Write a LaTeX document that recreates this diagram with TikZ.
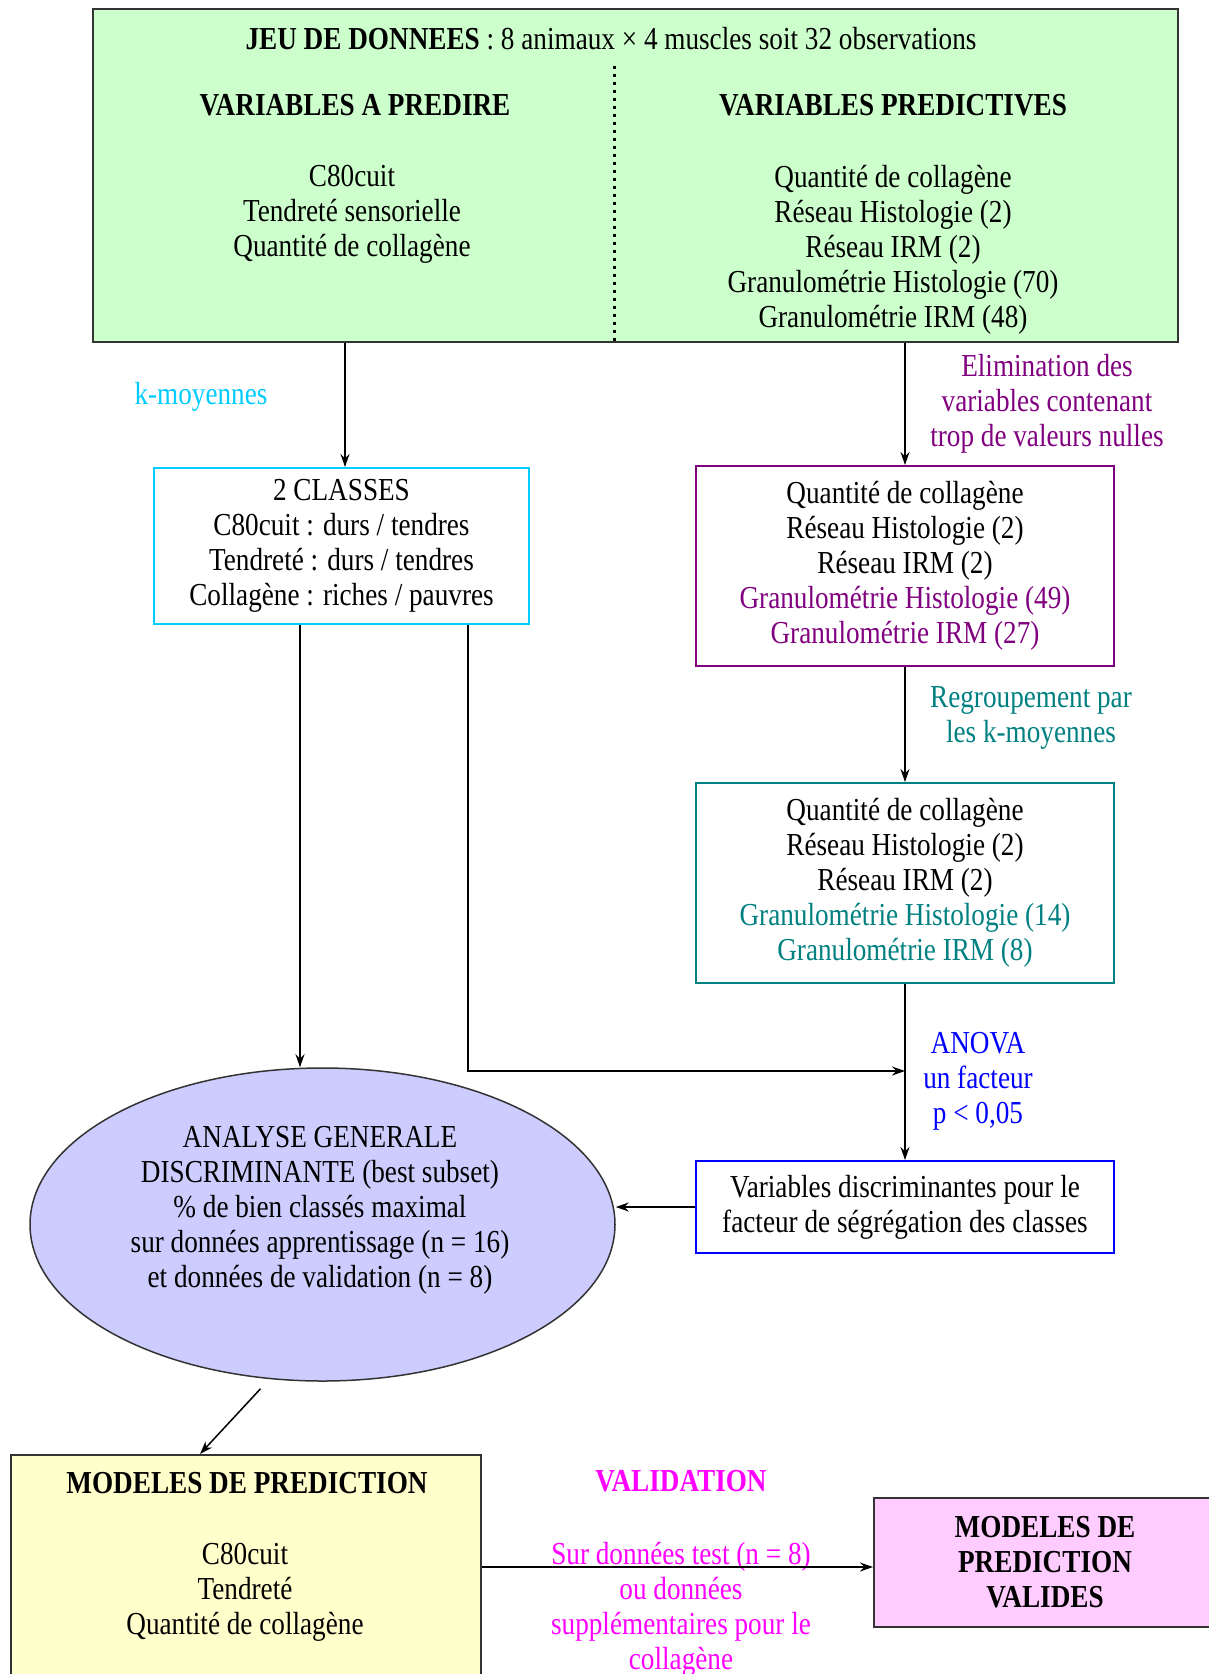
\documentclass[tikz,border=0pt]{standalone}
\usepackage{fontspec}
\setmainfont{Liberation Serif}[FakeStretch=0.85]
\usetikzlibrary{arrows.meta,shapes.geometric}
\definecolor{vert}{HTML}{CCFFCC}
\definecolor{ciel}{HTML}{00CCFF}
\definecolor{violet}{HTML}{800080}
\definecolor{sarcelle}{HTML}{008080}
\definecolor{bleu}{HTML}{0000FF}
\definecolor{lavande}{HTML}{CCCCFF}
\definecolor{jaune}{HTML}{FFFFCC}
\definecolor{rose}{HTML}{FFCCFF}
\definecolor{magenta}{HTML}{FF00FF}
\begin{document}
\begin{tikzpicture}[x=1pt, y=-1pt,
    every node/.style={font=\fontsize{32}{35}\selectfont, align=center},
    titre/.style={font=\fontsize{32}{35}\selectfont\bfseries},
    box/.style={draw, line width=2pt, inner sep=0pt},
    link/.style={-{Stealth[length=13pt,width=9pt]}, line width=1.5pt}]
  \useasboundingbox (0,0) rectangle (1209,1674);
  % Boxes
  \node (data) at (635.5,175.5) [box, draw=black!80, fill=vert, minimum width=1085, minimum height=333] {};
  \node (classes) at (341.5,546) [box, draw=ciel, minimum width=375, minimum height=156] {2 CLASSES\\C80cuit : durs / tendres\\Tendreté : durs / tendres\\Collagène : riches / pauvres};
  \node (elim) at (905,566) [box, draw=violet, minimum width=418, minimum height=200] {Quantité de collagène\\Réseau Histologie (2)\\Réseau IRM (2)\\\textcolor{violet}{Granulométrie Histologie (49)}\\\textcolor{violet}{Granulométrie IRM (27)}};
  \node (regroup) at (905,883) [box, draw=sarcelle, minimum width=418, minimum height=200] {Quantité de collagène\\Réseau Histologie (2)\\Réseau IRM (2)\\\textcolor{sarcelle}{Granulométrie Histologie (14)}\\\textcolor{sarcelle}{Granulométrie IRM (8)}};
  \node (discr) at (905,1207) [box, draw=bleu, minimum width=418, minimum height=92] {Variables discriminantes pour le\\facteur de ségrégation des classes};
  \node (agd) at (322.5,1224.5) [ellipse, draw=black!80, line width=1.5pt, fill=lavande, inner sep=0pt, minimum width=585, minimum height=313] {};
  \node (model) at (246,1567) [box, draw=black!80, fill=jaune, minimum width=470, minimum height=224] {};
  \node (valid) at (1045,1562.5) [box, draw=black!80, fill=rose, minimum width=342, minimum height=129, titre] {MODELES DE\\PREDICTION\\VALIDES};
  % Texts
  \node (title) at (611,39) {\textbf{JEU DE DONNEES} : 8 animaux × 4 muscles soit 32 observations};
  \node (hpredire) at (355,105) [titre] {VARIABLES A PREDIRE};
  \node (hpredictive) at (893,105) [titre] {VARIABLES PREDICTIVES};
  \node (lpredire) at (352,214) {C80cuit\\Tendreté sensorielle\\Quantité de collagène};
  \node (lpredictive) at (893,250) {Quantité de collagène\\Réseau Histologie (2)\\Réseau IRM (2)\\Granulométrie Histologie (70)\\Granulométrie IRM (48)};
  \node (agdtxt) at (320,1210) {ANALYSE GENERALE\\DISCRIMINANTE (best subset)\\\% de bien classés maximal\\sur données apprentissage (n = 16)\\et données de validation (n = 8)};
  \node (modeltitle) at (247,1483) [titre] {MODELES DE PREDICTION};
  \node (modellist) at (245,1592) {C80cuit\\Tendreté\\Quantité de collagène};
  % Labels
  \node (kmoy) at (201,397) [text=ciel] {k-moyennes};
  \node (elimtxt) at (1047,404) [text=violet] {Elimination des\\variables contenant\\trop de valeurs nulles};
  \node (regtxt) at (1031,718) [text=sarcelle] {Regroupement par\\les k-moyennes};
  \node (anovatxt) at (978,1081) [text=bleu] {ANOVA\\un facteur\\p < 0,05};
  \node (validtxt) at (681,1481) [titre, text=magenta] {VALIDATION};
  \node (testtxt) at (681,1609) [text=magenta] {Sur données test (n = 8)\\ou données\\supplémentaires pour le\\collagène};
  % Edges
  \coordinate (split) at (614,66);
  \coordinate (join) at (905,1071);
  \draw[line width=3pt, dash pattern=on 3pt off 5pt] (split) -- (split |- data.south);
  \draw[link] ([xshift=3.5]data.south -| classes.north) -- ([xshift=3.5]classes.north);
  \draw[link] (data.south -| elim.north) -- (elim.north);
  \draw[link] (elim) -- (regroup);
  \draw[link] (regroup) -- (discr);
  \draw[link] ([xshift=-41.5]classes.south) -- ([xshift=-41.5]classes.south |- agd.north);
  \draw[link] ([xshift=126.5]classes.south) |- (join);
  \draw[link] (discr.west) -- (discr.west -| agd.east);
  \draw[link] ([shift={(-62,7)}]agd.south) -- ([xshift=-46]model.north);
  \draw[link] (model.east) -- (model.east -| valid.west);
\end{tikzpicture}
\end{document}
